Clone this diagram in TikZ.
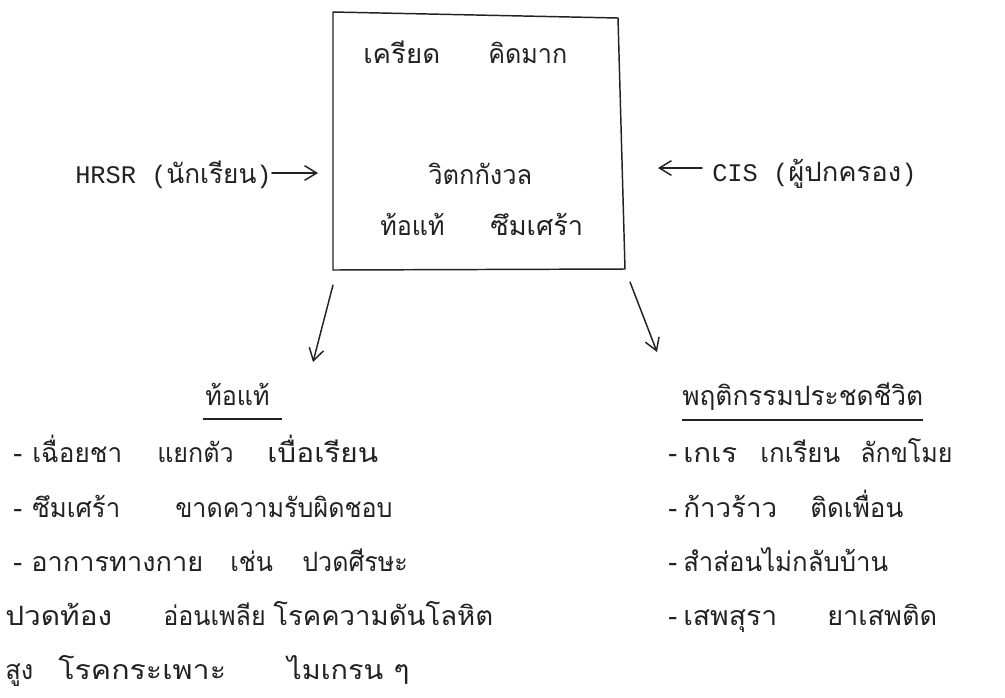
\documentclass[tikz,border=0pt]{standalone}
\usepackage{fontspec}
\usepackage{graphicx}
\newfontfamily\thai[Script=Thai]{Loma}
\newfontfamily\mono{Liberation Mono}
\usetikzlibrary{arrows.meta}
\definecolor{ink}{HTML}{222222}
% widen or narrow a word towards a given width (in picture units of 0.75pt),
% within a small range so all words keep the same stroke weight
\newcommand\fitw[2]{%
  \setbox0\hbox{#2}%
  \pgfmathsetmacro\wfac{max(0.94,min(1.14,0.75*#1/\wd0))}%
  \scalebox{\wfac}[1]{\box0}}
\tikzset{
  txt/.style={anchor=base west, inner sep=0pt, text=ink,
    font=\thai\fontsize{20}{20}\selectfont},
  lbl/.style={inner sep=0pt, text=ink, font=\fontsize{19}{19}\selectfont},
  pen/.style={draw=ink, line width=1.1pt, line cap=round, line join=round},
  arr/.style={pen, -{Straight Barb[length=9pt,width=11pt,line width=1.1pt]}},
  uline/.style={draw=ink, line width=1.2pt},
}
\begin{document}
\begin{tikzpicture}[x=0.75pt, y=-0.75pt]
\useasboundingbox (0,0) rectangle (1005,697);

% central box (slightly skewed, as hand ruled)
\coordinate (tl) at (333,12);
\coordinate (tr) at (618,18);
\coordinate (br) at (625,269);
\coordinate (bl) at (333,270);
\draw[pen] (tl) -- (tr) -- (br) -- (bl) -- cycle;

% words inside the box
\node[txt] (k1) at (363,63) {\fitw{77}{เครียด}};
\node[txt] (k2) at (488,63) {\fitw{79}{คิดมาก}};
\node[txt] (k3) at (428,184) {\fitw{104}{วิตกกังวล}};
\node[txt] (k4) at (380,235) {\fitw{62}{ท้อแท้}};
\node[txt] (k5) at (490,235) {\fitw{93}{ซึมเศร้า}};

% side inputs
\node[lbl, anchor=base west] (hrsr) at (75,183)
  {{\mono HRSR (}{\thai\fontsize{20}{20}\selectfont\fitw{90}{นักเรียน}}{\mono )}};
\coordinate (hrsrTip) at (318,173);
\draw[arr] (hrsr.east |- hrsrTip) -- (hrsrTip);

\node[lbl, anchor=base west] (cis) at (712,181)
  {{\mono CIS (}{\thai\fontsize{20}{20}\selectfont\fitw{113}{ผู้ปกครอง}}{\mono )}};
\coordinate (cisTip) at (658,168);
\draw[arr] (702,168) coordinate (cisTail) -- (cisTip);

% outputs
\coordinate (outL) at (333,285);
\coordinate (outLTip) at (313,362);
\draw[arr] (outL) -- (outLTip);
\coordinate (outR) at (630,282);
\coordinate (outRTip) at (657,352);
\draw[arr] (outR) -- (outRTip);

% left list
\node[txt] (hL) at (205,405) {\fitw{62}{ท้อแท้}};
\draw[uline] (203,419) -- (282,419);
\node[txt] (a1) at (13,462) {-};
\node[txt] (a2) at (32,462) {\fitw{90}{เฉื่อยชา}};
\node[txt] (a3) at (157,462) {\fitw{76}{แยกตัว}};
\node[txt] (a4) at (267,462) {\fitw{111}{เบื่อเรียน}};
\node[txt] (b1) at (13,517) {-};
\node[txt] (b2) at (32,517) {\fitw{88}{ซึมเศร้า}};
\node[txt] (b3) at (175,517) {\fitw{217}{ขาดความรับผิดชอบ}};
\node[txt] (c1) at (13,571) {-};
\node[txt] (c2) at (31,571) {\fitw{172}{อาการทางกาย}};
\node[txt] (c3) at (230,571) {\fitw{40}{เช่น}};
\node[txt] (c4) at (302,571) {\fitw{91}{ปวดศีรษะ}};
\node[txt] (d1) at (5,625) {\fitw{107}{ปวดท้อง}};
\node[txt] (d2) at (163,625) {\fitw{94}{อ่อนเพลีย}};
\node[txt] (d3) at (273,625) {\fitw{220}{โรคความดันโลหิต}};
\node[txt] (e1) at (5,679) {\fitw{28}{สูง}};
\node[txt] (e2) at (58,679) {\fitw{172}{โรคกระเพาะ}};
\node[txt] (e3) at (287,679) {\fitw{96}{ไมเกรน}};
\node[txt] (e4) at (393,679) {\fitw{17}{ๆ}};

% right list
\node[txt] (hR) at (682,405) {\fitw{241}{พฤติกรรมประชดชีวิต}};
\draw[uline] (682,420) -- (923,420);
\node[txt] (f1) at (668,462) {-};
\node[txt] (f2) at (683,462) {\fitw{54}{เกเร}};
\node[txt] (f3) at (760,462) {\fitw{80}{เกเรียน}};
\node[txt] (f4) at (860,462) {\fitw{87}{ลักขโมย}};
\node[txt] (g1) at (668,517) {-};
\node[txt] (g2) at (683,517) {\fitw{94}{ก้าวร้าว}};
\node[txt] (g3) at (810,517) {\fitw{93}{ติดเพื่อน}};
\node[txt] (h1) at (668,571) {-};
\node[txt] (h2) at (683,571) {\fitw{205}{สำส่อนไม่กลับบ้าน}};
\node[txt] (i1) at (668,625) {-};
\node[txt] (i2) at (683,625) {\fitw{94}{เสพสุรา}};
\node[txt] (i3) at (827,625) {\fitw{110}{ยาเสพติด}};
\end{tikzpicture}
\end{document}
